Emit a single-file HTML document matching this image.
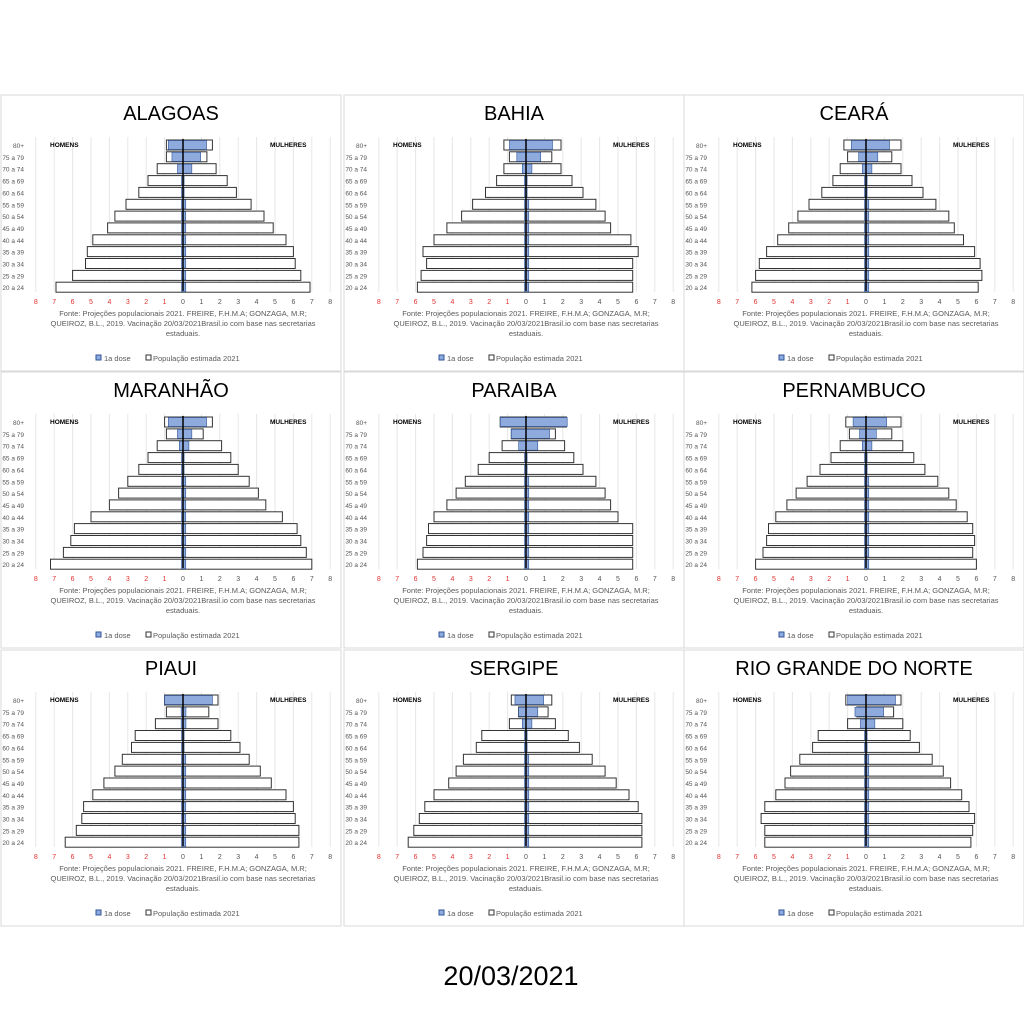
<!DOCTYPE html>
<html><head><meta charset="utf-8"><style>
body{margin:0;background:#fff;width:1024px;height:1024px;overflow:hidden;font-family:"Liberation Sans",sans-serif}
svg{position:absolute;left:0;top:0}
</style></head><body>
<svg id="s" width="1024" height="1024" xmlns="http://www.w3.org/2000/svg" font-family="Liberation Sans, sans-serif">
<text x="511" y="985" font-size="27" text-anchor="middle" fill="#000">20/03/2021</text>
</svg>
<script>
var S=document.getElementById('s'),h='';
var panels=[
['ALAGOAS',0,95,[0.9,0.9,1.4,1.9,2.4,3.1,3.7,4.1,4.9,5.2,5.3,6.0,6.9],[1.6,1.3,1.8,2.4,2.9,3.7,4.4,4.9,5.6,6.0,6.1,6.4,6.9],[0.8,0.6,0.3]],
['BAHIA',343,95,[1.2,0.9,1.2,1.6,2.2,2.9,3.5,4.3,5.0,5.6,5.4,5.7,5.9],[1.9,1.4,1.9,2.5,3.1,3.8,4.3,4.6,5.7,6.1,5.8,5.8,5.8],[0.9,0.5,0.2]],
['CEARÁ',683,95,[1.2,1.0,1.4,1.8,2.4,3.1,3.7,4.2,4.8,5.4,5.8,6.0,6.2],[1.9,1.4,1.9,2.5,3.1,3.8,4.5,4.8,5.3,5.9,6.2,6.3,6.1],[0.8,0.4,0.2]],
['MARANHÃO',0,372,[1.0,0.9,1.4,1.9,2.4,3.0,3.5,4.0,5.0,5.9,6.1,6.5,7.2],[1.6,1.1,2.1,2.6,3.0,3.6,4.1,4.5,5.4,6.2,6.4,6.7,7.0],[0.8,0.3,0.2]],
['PARAIBA',343,372,[1.4,0.8,1.3,2.0,2.6,3.3,3.8,4.3,5.0,5.3,5.4,5.6,5.9],[2.2,1.6,2.1,2.6,3.1,3.8,4.3,4.6,5.0,5.8,5.8,5.8,5.8],[1.4,0.8,0.4]],
['PERNAMBUCO',683,372,[1.1,0.9,1.4,1.9,2.5,3.2,3.8,4.3,4.9,5.3,5.4,5.6,6.0],[1.9,1.4,2.0,2.6,3.2,3.9,4.5,4.9,5.5,5.8,5.9,5.8,6.0],[0.7,0.35,0.2]],
['PIAUI',0,650,[1.0,0.9,1.5,2.6,2.8,3.3,3.7,4.3,4.9,5.4,5.5,5.8,6.4],[1.9,1.4,1.9,2.6,3.1,3.6,4.2,4.8,5.6,6.0,6.1,6.3,6.3],[1.0,0.1,0.1]],
['SERGIPE',343,650,[0.8,0.4,0.9,2.4,2.7,3.4,3.8,4.2,5.0,5.5,5.8,6.1,6.4],[1.4,1.2,1.6,2.3,2.9,3.6,4.3,4.9,5.6,6.1,6.3,6.3,6.3],[0.6,0.4,0.2]],
['RIO GRANDE DO NORTE',683,650,[1.1,0.5,1.0,2.6,2.9,3.6,4.1,4.4,4.9,5.5,5.7,5.5,5.5],[1.9,1.5,2.0,2.4,2.9,3.6,4.2,4.6,5.2,5.6,5.9,5.8,5.7],[1.0,0.6,0.3]]];
var ages=['80+','75 a 79','70 a 74','65 a 69','60 a 64','55 a 59','50 a 54','45 a 49','40 a 44','35 a 39','30 a 34','25 a 29','20 a 24'];
var R=function(x,y,w,hh,f,st){return '<rect x="'+x.toFixed(1)+'" y="'+y.toFixed(1)+'" width="'+w.toFixed(1)+'" height="'+hh+'" fill="'+f+'" stroke="'+st+'" stroke-width="1"/>';};
panels.forEach(function(p){
 var L=p[1],T=p[2],c=L+183,k=18.4;
 h+='<rect x="'+(L+1)+'" y="'+T+'" width="340" height="276" fill="none" stroke="#d9d9d9"/>';
 h+='<text x="'+(L+171)+'" y="'+(T+25)+'" font-size="20" text-anchor="middle">'+p[0]+'</text>';
 for(var i=-8;i<=8;i++){var x=c+i*k;h+='<line x1="'+x+'" y1="'+(T+42)+'" x2="'+x+'" y2="'+(T+197)+'" stroke="#e6e6e6"/>';
  h+='<text x="'+x+'" y="'+(T+209)+'" font-size="7" text-anchor="middle" fill="'+(i<0?'#e03030':'#555')+'">'+Math.abs(i)+'</text>';}
 h+='<text x="'+(L+50)+'" y="'+(T+52)+'" font-size="6.5" font-weight="bold">HOMENS</text>';
 h+='<text x="'+(L+270)+'" y="'+(T+52)+'" font-size="6.5" font-weight="bold">MULHERES</text>';
 for(var r=0;r<13;r++){var y=T+50+r*11.85-5;
  h+=R(c-p[3][r]*k,y,p[3][r]*k,10,'#fff','#333');
  h+=R(c,y,p[4][r]*k,10,'#fff','#333');
  var dm=r<3?p[5][r]:0.08,dw=r<3?p[5][r]*1.6:(r<5?0.06:0.15);
  h+='<rect x="'+(c-dm*k)+'" y="'+(y+0.5)+'" width="'+((dm+dw)*k)+'" height="9" fill="#8faadc" stroke="#2f5597" stroke-width="0.6"/>';
  h+='<text x="'+(L+24)+'" y="'+(y+8)+'" font-size="6.5" text-anchor="end" fill="#555">'+ages[r]+'</text>';}
 h+='<line x1="'+c+'" y1="'+(T+44)+'" x2="'+c+'" y2="'+(T+196)+'" stroke="#000" stroke-width="1.5"/>';
 var fx=L+183;
 h+='<text x="'+fx+'" y="'+(T+221)+'" font-size="7.5" text-anchor="middle" fill="#595959">Fonte: Projeções populacionais 2021. FREIRE, F.H.M.A; GONZAGA, M.R;</text>';
 h+='<text x="'+fx+'" y="'+(T+231)+'" font-size="7.5" text-anchor="middle" fill="#595959">QUEIROZ, B.L., 2019. Vacinação 20/03/2021Brasil.io com base nas secretarias</text>';
 h+='<text x="'+fx+'" y="'+(T+241)+'" font-size="7.5" text-anchor="middle" fill="#595959">estaduais.</text>';
 h+='<rect x="'+(L+96)+'" y="'+(T+260)+'" width="5" height="5" fill="#8faadc" stroke="#2f5597"/><text x="'+(L+104)+'" y="'+(T+266)+'" font-size="7.5" fill="#595959">1a dose</text>';
 h+='<rect x="'+(L+146)+'" y="'+(T+260)+'" width="5" height="5" fill="#fff" stroke="#333"/><text x="'+(L+153)+'" y="'+(T+266)+'" font-size="7.5" fill="#595959">População estimada 2021</text>';
});
S.insertAdjacentHTML('beforeend',h);
</script>
</body></html>
